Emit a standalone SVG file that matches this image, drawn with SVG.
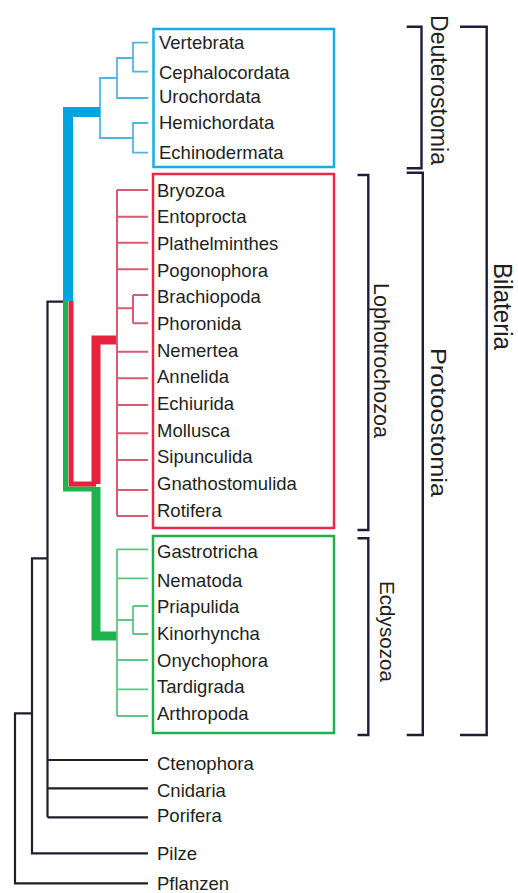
<svg xmlns="http://www.w3.org/2000/svg" width="518" height="893" viewBox="0 0 518 893">
<style>
text{font-family:"Liberation Sans",Arial,sans-serif;fill:#231f20}
.lab{font-size:18.5px}
.grp{font-size:22px}
.box{fill:none;stroke-width:2.5}
.bl{fill:none;stroke:#4fb6e3;stroke-width:1.8}
.rd{fill:none;stroke:#d95a72;stroke-width:2}
.gn{fill:none;stroke:#5cc684;stroke-width:1.8}
.bk{fill:none;stroke:#1e1e2c;stroke-width:2.2}
.br{fill:none;stroke:#1d1d3a;stroke-width:2.4}
</style>
<rect width="518" height="893" fill="#ffffff"/>
<g id="connectors">
  <path class="bk" d="M63,301.7 H47.5 V817.3 M47.5,760 H148 M47.5,788.3 H148 M47.5,817.3 H148"/>
  <path class="bk" d="M47.5,558.3 H32 V853.3 H148"/>
  <path class="bk" d="M32,713.3 H15 V883.3 H148"/>
  <path class="bl" d="M148,42.7 H133 V71.7 H148 M133,58 H117 V98 H148 M117,78 H100 V138 H133 M148,123 H133 V152.7 H148"/>
  <path d="M100,112 H68 V301" fill="none" stroke="#00a5e0" stroke-width="10"/>
  <path d="M65.5,301 V489 H96" fill="none" stroke="#1db34e" stroke-width="5"/>
  <path d="M71,301 V484 H96" fill="none" stroke="#e8213f" stroke-width="5"/>
  <path d="M96,484 V340 H117" fill="none" stroke="#e8213f" stroke-width="9"/>
  <path d="M96,487 V636 H117" fill="none" stroke="#1db34e" stroke-width="9"/>
  <path class="rd" d="M117,190 V516 M117,190 H148 M117,216.7 H148 M117,242.7 H148 M117,269.3 H148 M117,308.3 H133 M133,295 V323.3 M133,295 H148 M133,323.3 H148 M117,351.7 H148 M117,378.3 H148 M117,405 H148 M117,433.3 H148 M117,460 H148 M117,490 H148 M117,516 H148"/>
  <path class="gn" d="M117,549.3 V716 M117,549.3 H148 M117,578.3 H148 M117,620 H133 M133,606 V634 M133,606 H148 M133,634 H148 M117,660 H148 M117,689.3 H148 M117,716 H148"/>
</g>
<g id="deuterostomia-box"><rect class="box" x="153.5" y="29" width="180.5" height="138" stroke="#14aee6"/></g>
<g id="lophotrochozoa-box"><rect class="box" x="153" y="174" width="181" height="354" stroke="#e9284d"/></g>
<g id="ecdysozoa-box"><rect class="box" x="153" y="536" width="181" height="197" stroke="#22ae4e"/></g>
<g id="vertebrata"><text class="lab" x="159" y="48.5">Vertebrata</text></g>
<g id="cephalocordata"><text class="lab" x="159" y="79">Cephalocordata</text></g>
<g id="urochordata"><text class="lab" x="159" y="102.5">Urochordata</text></g>
<g id="hemichordata"><text class="lab" x="159" y="129">Hemichordata</text></g>
<g id="echinodermata"><text class="lab" x="159" y="159">Echinodermata</text></g>
<g id="bryozoa"><text class="lab" x="157" y="196.7">Bryozoa</text></g>
<g id="entoprocta"><text class="lab" x="157" y="223.3">Entoprocta</text></g>
<g id="plathelminthes"><text class="lab" x="157" y="250">Plathelminthes</text></g>
<g id="pogonophora"><text class="lab" x="157" y="276.6">Pogonophora</text></g>
<g id="brachiopoda"><text class="lab" x="157" y="303.3">Brachiopoda</text></g>
<g id="phoronida"><text class="lab" x="157" y="330">Phoronida</text></g>
<g id="nemertea"><text class="lab" x="157" y="356.6">Nemertea</text></g>
<g id="annelida"><text class="lab" x="157" y="383.2">Annelida</text></g>
<g id="echiurida"><text class="lab" x="157" y="409.9">Echiurida</text></g>
<g id="mollusca"><text class="lab" x="157" y="436.6">Mollusca</text></g>
<g id="sipunculida"><text class="lab" x="157" y="463.2">Sipunculida</text></g>
<g id="gnathostomulida"><text class="lab" x="157" y="489.9">Gnathostomulida</text></g>
<g id="rotifera"><text class="lab" x="157" y="516.5">Rotifera</text></g>
<g id="gastrotricha"><text class="lab" x="157" y="557.5">Gastrotricha</text></g>
<g id="nematoda"><text class="lab" x="157" y="586.7">Nematoda</text></g>
<g id="priapulida"><text class="lab" x="157" y="613.3">Priapulida</text></g>
<g id="kinorhyncha"><text class="lab" x="157" y="640">Kinorhyncha</text></g>
<g id="onychophora"><text class="lab" x="157" y="666.7">Onychophora</text></g>
<g id="tardigrada"><text class="lab" x="157" y="693.3">Tardigrada</text></g>
<g id="arthropoda"><text class="lab" x="157" y="720">Arthropoda</text></g>
<g id="ctenophora"><text class="lab" x="157" y="770">Ctenophora</text></g>
<g id="cnidaria"><text class="lab" x="157" y="796.7">Cnidaria</text></g>
<g id="porifera"><text class="lab" x="157" y="821.7">Porifera</text></g>
<g id="pilze"><text class="lab" x="157" y="860">Pilze</text></g>
<g id="pflanzen"><text class="lab" x="157" y="890">Pflanzen</text></g>
<g id="brackets">
  <path class="br" d="M406.7,26.7 H421.5 V168.3 H406.7"/>
  <path class="br" d="M406.7,172.7 H422.8 V735 H406.7"/>
  <path class="br" d="M460,26.7 H486.7 V735 H460"/>
  <path class="br" d="M357.5,175 H368.3 V530 H357.5"/>
  <path class="br" d="M357.5,538.3 H368.3 V735 H357.5"/>
</g>
<g id="deuterostomia-label"><text class="grp" transform="translate(431,15) rotate(90)" textLength="150" lengthAdjust="spacingAndGlyphs" style="font-size:23px">Deuterostomia</text></g>
<g id="protostomia-label"><text class="grp" transform="translate(431,348) rotate(90)" textLength="149" lengthAdjust="spacingAndGlyphs">Protoostomia</text></g>
<g id="lophotrochozoa-label"><text class="grp" transform="translate(374,283) rotate(90)" textLength="155" lengthAdjust="spacingAndGlyphs">Lophotrochozoa</text></g>
<g id="ecdysozoa-label"><text class="grp" transform="translate(379.5,581) rotate(90)" textLength="101" lengthAdjust="spacingAndGlyphs" style="font-size:20px">Ecdysozoa</text></g>
<g id="bilateria-label"><text class="grp" transform="translate(494,263) rotate(90)" textLength="87" lengthAdjust="spacingAndGlyphs" style="font-size:25px">Bilateria</text></g>
</svg>
